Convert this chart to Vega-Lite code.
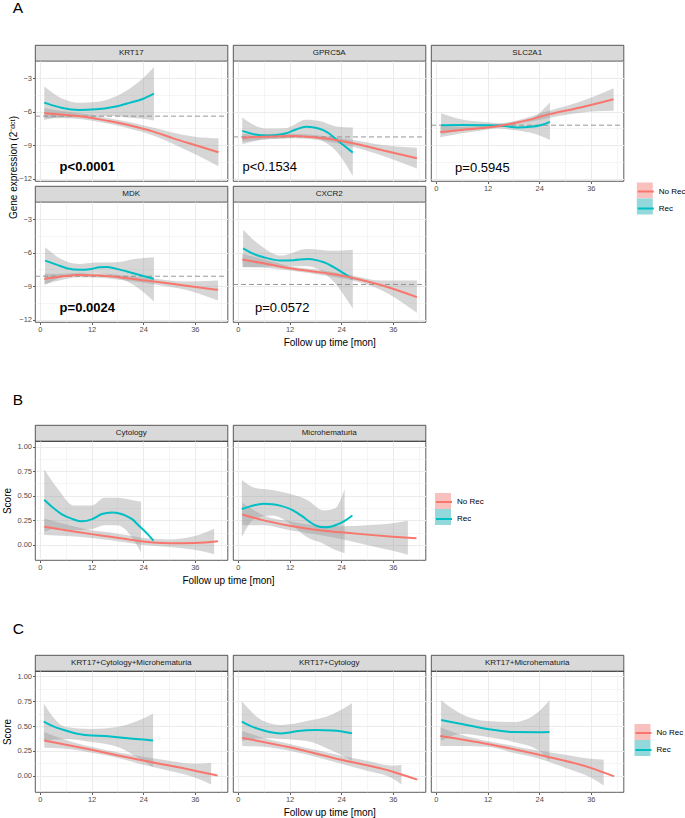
{
"$schema":"https://vega.github.io/schema/vega-lite/v6.json",
"padding":{"left":1,"top":0,"right":5,"bottom":5},
"autosize":{"type":"pad"},
"bounds":"flush",
"columns":3,
"spacing":{"row":0,"column":5},
"resolve":{"scale":{"stroke":"independent","fill":"independent"},"legend":{"stroke":"independent","fill":"independent"}},
"datasets":{
"L":[
{"p":"KRT17","g":"Rec","m":1,"v":-5.2},{"p":"KRT17","g":"Rec","m":5,"v":-5.65},{"p":"KRT17","g":"Rec","m":9,"v":-5.85},{"p":"KRT17","g":"Rec","m":13,"v":-5.8},{"p":"KRT17","g":"Rec","m":17,"v":-5.6},{"p":"KRT17","g":"Rec","m":21,"v":-5.2},{"p":"KRT17","g":"Rec","m":24,"v":-4.85},{"p":"KRT17","g":"Rec","m":26.5,"v":-4.4},
{"p":"KRT17","g":"No Rec","m":1,"v":-6.15},{"p":"KRT17","g":"No Rec","m":6,"v":-6.3},{"p":"KRT17","g":"No Rec","m":11,"v":-6.5},{"p":"KRT17","g":"No Rec","m":16,"v":-6.85},{"p":"KRT17","g":"No Rec","m":21,"v":-7.25},{"p":"KRT17","g":"No Rec","m":26,"v":-7.75},{"p":"KRT17","g":"No Rec","m":31,"v":-8.4},{"p":"KRT17","g":"No Rec","m":36,"v":-9.0},{"p":"KRT17","g":"No Rec","m":41.5,"v":-9.65},
{"p":"GPRC5A","g":"Rec","m":1,"v":-7.73},{"p":"GPRC5A","g":"Rec","m":4,"v":-8.05},{"p":"GPRC5A","g":"Rec","m":6.5,"v":-8.15},{"p":"GPRC5A","g":"Rec","m":9,"v":-8.1},{"p":"GPRC5A","g":"Rec","m":11,"v":-7.97},{"p":"GPRC5A","g":"Rec","m":13.5,"v":-7.6},{"p":"GPRC5A","g":"Rec","m":15.8,"v":-7.37},{"p":"GPRC5A","g":"Rec","m":18,"v":-7.45},{"p":"GPRC5A","g":"Rec","m":19.7,"v":-7.64},{"p":"GPRC5A","g":"Rec","m":21.5,"v":-8.05},{"p":"GPRC5A","g":"Rec","m":22.8,"v":-8.48},{"p":"GPRC5A","g":"Rec","m":24.5,"v":-9.0},{"p":"GPRC5A","g":"Rec","m":26.7,"v":-9.68},
{"p":"GPRC5A","g":"No Rec","m":1,"v":-8.36},{"p":"GPRC5A","g":"No Rec","m":6,"v":-8.25},{"p":"GPRC5A","g":"No Rec","m":12.7,"v":-8.18},{"p":"GPRC5A","g":"No Rec","m":20.4,"v":-8.42},{"p":"GPRC5A","g":"No Rec","m":26.7,"v":-8.84},{"p":"GPRC5A","g":"No Rec","m":33.6,"v":-9.47},{"p":"GPRC5A","g":"No Rec","m":41.6,"v":-10.19},
{"p":"SLC2A1","g":"Rec","m":1.2,"v":-7.22},{"p":"SLC2A1","g":"Rec","m":6,"v":-7.2},{"p":"SLC2A1","g":"Rec","m":12,"v":-7.22},{"p":"SLC2A1","g":"Rec","m":16,"v":-7.3},{"p":"SLC2A1","g":"Rec","m":18.9,"v":-7.43},{"p":"SLC2A1","g":"Rec","m":22,"v":-7.37},{"p":"SLC2A1","g":"Rec","m":24.5,"v":-7.2},{"p":"SLC2A1","g":"Rec","m":26.5,"v":-6.92},
{"p":"SLC2A1","g":"No Rec","m":1,"v":-7.82},{"p":"SLC2A1","g":"No Rec","m":6,"v":-7.65},{"p":"SLC2A1","g":"No Rec","m":12,"v":-7.43},{"p":"SLC2A1","g":"No Rec","m":19.7,"v":-6.92},{"p":"SLC2A1","g":"No Rec","m":26.5,"v":-6.23},{"p":"SLC2A1","g":"No Rec","m":33.6,"v":-5.63},{"p":"SLC2A1","g":"No Rec","m":41.3,"v":-4.89},
{"p":"MDK","g":"Rec","m":1.2,"v":-6.72},{"p":"MDK","g":"Rec","m":4,"v":-7.1},{"p":"MDK","g":"Rec","m":6.2,"v":-7.4},{"p":"MDK","g":"Rec","m":9.3,"v":-7.55},{"p":"MDK","g":"Rec","m":11.5,"v":-7.5},{"p":"MDK","g":"Rec","m":13.9,"v":-7.32},{"p":"MDK","g":"Rec","m":15.5,"v":-7.3},{"p":"MDK","g":"Rec","m":17.8,"v":-7.46},{"p":"MDK","g":"Rec","m":21.7,"v":-7.85},{"p":"MDK","g":"Rec","m":26.5,"v":-8.36},
{"p":"MDK","g":"No Rec","m":1,"v":-8.36},{"p":"MDK","g":"No Rec","m":5,"v":-8.15},{"p":"MDK","g":"No Rec","m":9,"v":-8.0},{"p":"MDK","g":"No Rec","m":14,"v":-8.06},{"p":"MDK","g":"No Rec","m":21.7,"v":-8.36},{"p":"MDK","g":"No Rec","m":26.5,"v":-8.6},{"p":"MDK","g":"No Rec","m":33.6,"v":-8.95},{"p":"MDK","g":"No Rec","m":41.4,"v":-9.34},
{"p":"CXCR2","g":"Rec","m":1.2,"v":-5.62},{"p":"CXCR2","g":"Rec","m":3.5,"v":-6.1},{"p":"CXCR2","g":"Rec","m":6,"v":-6.42},{"p":"CXCR2","g":"Rec","m":10,"v":-6.72},{"p":"CXCR2","g":"Rec","m":13,"v":-6.68},{"p":"CXCR2","g":"Rec","m":16.2,"v":-6.57},{"p":"CXCR2","g":"Rec","m":18.5,"v":-6.7},{"p":"CXCR2","g":"Rec","m":20,"v":-6.87},{"p":"CXCR2","g":"Rec","m":23.2,"v":-7.52},{"p":"CXCR2","g":"Rec","m":26.7,"v":-8.36},
{"p":"CXCR2","g":"No Rec","m":1,"v":-6.63},{"p":"CXCR2","g":"No Rec","m":6,"v":-6.96},{"p":"CXCR2","g":"No Rec","m":12,"v":-7.4},{"p":"CXCR2","g":"No Rec","m":20,"v":-7.82},{"p":"CXCR2","g":"No Rec","m":26.7,"v":-8.27},{"p":"CXCR2","g":"No Rec","m":33,"v":-8.89},{"p":"CXCR2","g":"No Rec","m":41.6,"v":-9.99},
{"p":"Cyt","g":"Rec","m":1,"v":0.46},{"p":"Cyt","g":"Rec","m":3,"v":0.38},{"p":"Cyt","g":"Rec","m":5,"v":0.314},{"p":"Cyt","g":"Rec","m":7.5,"v":0.265},{"p":"Cyt","g":"Rec","m":9.7,"v":0.24},{"p":"Cyt","g":"Rec","m":12,"v":0.26},{"p":"Cyt","g":"Rec","m":14.4,"v":0.314},{"p":"Cyt","g":"Rec","m":16.7,"v":0.33},{"p":"Cyt","g":"Rec","m":18.5,"v":0.32},{"p":"Cyt","g":"Rec","m":19.8,"v":0.3},{"p":"Cyt","g":"Rec","m":21.5,"v":0.26},{"p":"Cyt","g":"Rec","m":23,"v":0.196},{"p":"Cyt","g":"Rec","m":24.8,"v":0.12},{"p":"Cyt","g":"Rec","m":26.4,"v":0.044},
{"p":"Cyt","g":"No Rec","m":1,"v":0.186},{"p":"Cyt","g":"No Rec","m":6,"v":0.15},{"p":"Cyt","g":"No Rec","m":12,"v":0.11},{"p":"Cyt","g":"No Rec","m":16,"v":0.085},{"p":"Cyt","g":"No Rec","m":20,"v":0.06},{"p":"Cyt","g":"No Rec","m":24,"v":0.034},{"p":"Cyt","g":"No Rec","m":30,"v":0.017},{"p":"Cyt","g":"No Rec","m":36,"v":0.02},{"p":"Cyt","g":"No Rec","m":41.4,"v":0.037},
{"p":"Mic","g":"Rec","m":0.9,"v":0.365},{"p":"Mic","g":"Rec","m":3,"v":0.395},{"p":"Mic","g":"Rec","m":5.9,"v":0.42},{"p":"Mic","g":"Rec","m":8,"v":0.415},{"p":"Mic","g":"Rec","m":9.8,"v":0.4},{"p":"Mic","g":"Rec","m":12.9,"v":0.35},{"p":"Mic","g":"Rec","m":15,"v":0.29},{"p":"Mic","g":"Rec","m":16.8,"v":0.23},{"p":"Mic","g":"Rec","m":18.5,"v":0.19},{"p":"Mic","g":"Rec","m":20,"v":0.18},{"p":"Mic","g":"Rec","m":21.5,"v":0.185},{"p":"Mic","g":"Rec","m":23,"v":0.206},{"p":"Mic","g":"Rec","m":25,"v":0.25},{"p":"Mic","g":"Rec","m":26.6,"v":0.3},
{"p":"Mic","g":"No Rec","m":1,"v":0.31},{"p":"Mic","g":"No Rec","m":6,"v":0.25},{"p":"Mic","g":"No Rec","m":12,"v":0.196},{"p":"Mic","g":"No Rec","m":18,"v":0.155},{"p":"Mic","g":"No Rec","m":24,"v":0.128},{"p":"Mic","g":"No Rec","m":30,"v":0.105},{"p":"Mic","g":"No Rec","m":36,"v":0.084},{"p":"Mic","g":"No Rec","m":41.5,"v":0.068},
{"p":"KCM","g":"Rec","m":0.9,"v":0.545},{"p":"KCM","g":"Rec","m":3,"v":0.5},{"p":"KCM","g":"Rec","m":6,"v":0.455},{"p":"KCM","g":"Rec","m":9,"v":0.42},{"p":"KCM","g":"Rec","m":12,"v":0.404},{"p":"KCM","g":"Rec","m":15,"v":0.4},{"p":"KCM","g":"Rec","m":18,"v":0.387},{"p":"KCM","g":"Rec","m":21,"v":0.375},{"p":"KCM","g":"Rec","m":24,"v":0.364},{"p":"KCM","g":"Rec","m":26.3,"v":0.354},
{"p":"KCM","g":"No Rec","m":1,"v":0.354},{"p":"KCM","g":"No Rec","m":12,"v":0.26},{"p":"KCM","g":"No Rec","m":24,"v":0.152},{"p":"KCM","g":"No Rec","m":36,"v":0.05},{"p":"KCM","g":"No Rec","m":41.3,"v":0.0},
{"p":"KC","g":"Rec","m":0.9,"v":0.545},{"p":"KC","g":"Rec","m":3,"v":0.5},{"p":"KC","g":"Rec","m":6,"v":0.455},{"p":"KC","g":"Rec","m":8,"v":0.435},{"p":"KC","g":"Rec","m":10,"v":0.425},{"p":"KC","g":"Rec","m":12,"v":0.435},{"p":"KC","g":"Rec","m":14,"v":0.45},{"p":"KC","g":"Rec","m":18,"v":0.46},{"p":"KC","g":"Rec","m":22,"v":0.455},{"p":"KC","g":"Rec","m":26.5,"v":0.428},
{"p":"KC","g":"No Rec","m":1,"v":0.38},{"p":"KC","g":"No Rec","m":12,"v":0.286},{"p":"KC","g":"No Rec","m":24,"v":0.16},{"p":"KC","g":"No Rec","m":36,"v":0.04},{"p":"KC","g":"No Rec","m":41.7,"v":-0.04},
{"p":"KM","g":"Rec","m":1.2,"v":0.56},{"p":"KM","g":"Rec","m":6,"v":0.52},{"p":"KM","g":"Rec","m":12,"v":0.47},{"p":"KM","g":"Rec","m":18,"v":0.44},{"p":"KM","g":"Rec","m":24,"v":0.438},{"p":"KM","g":"Rec","m":26.4,"v":0.44},
{"p":"KM","g":"No Rec","m":1,"v":0.4},{"p":"KM","g":"No Rec","m":12,"v":0.32},{"p":"KM","g":"No Rec","m":24,"v":0.21},{"p":"KM","g":"No Rec","m":36,"v":0.078},{"p":"KM","g":"No Rec","m":41.4,"v":-0.007}
],
"B":[
{"p":"KRT17","g":"Rec","m":1,"v":-6.75,"v2":-3.75},{"p":"KRT17","g":"Rec","m":5,"v":-6.5,"v2":-4.8},{"p":"KRT17","g":"Rec","m":9,"v":-6.5,"v2":-5.2},{"p":"KRT17","g":"Rec","m":13,"v":-6.45,"v2":-5.15},{"p":"KRT17","g":"Rec","m":17,"v":-6.4,"v2":-4.75},{"p":"KRT17","g":"Rec","m":21,"v":-6.55,"v2":-3.9},{"p":"KRT17","g":"Rec","m":24,"v":-6.65,"v2":-3.0},{"p":"KRT17","g":"Rec","m":26.5,"v":-6.8,"v2":-2.0},
{"p":"KRT17","g":"No Rec","m":1,"v":-6.6,"v2":-5.7},{"p":"KRT17","g":"No Rec","m":6,"v":-6.6,"v2":-6.0},{"p":"KRT17","g":"No Rec","m":11,"v":-6.75,"v2":-6.25},{"p":"KRT17","g":"No Rec","m":16,"v":-7.1,"v2":-6.6},{"p":"KRT17","g":"No Rec","m":21,"v":-7.55,"v2":-6.95},{"p":"KRT17","g":"No Rec","m":26,"v":-8.1,"v2":-7.4},{"p":"KRT17","g":"No Rec","m":31,"v":-8.9,"v2":-7.9},{"p":"KRT17","g":"No Rec","m":36,"v":-9.8,"v2":-8.25},{"p":"KRT17","g":"No Rec","m":41.5,"v":-10.9,"v2":-8.4},
{"p":"GPRC5A","g":"Rec","m":1,"v":-8.93,"v2":-6.53},{"p":"GPRC5A","g":"Rec","m":6.5,"v":-8.48,"v2":-7.52},{"p":"GPRC5A","g":"Rec","m":11,"v":-8.4,"v2":-7.5},{"p":"GPRC5A","g":"Rec","m":15.8,"v":-8.18,"v2":-6.74},{"p":"GPRC5A","g":"Rec","m":19.5,"v":-8.6,"v2":-6.9},{"p":"GPRC5A","g":"Rec","m":22.8,"v":-9.53,"v2":-7.34},{"p":"GPRC5A","g":"Rec","m":26.7,"v":-11.77,"v2":-7.43},
{"p":"GPRC5A","g":"No Rec","m":1,"v":-8.7,"v2":-8.0},{"p":"GPRC5A","g":"No Rec","m":6,"v":-8.5,"v2":-8.0},{"p":"GPRC5A","g":"No Rec","m":12.7,"v":-8.38,"v2":-7.98},{"p":"GPRC5A","g":"No Rec","m":20.4,"v":-8.65,"v2":-8.2},{"p":"GPRC5A","g":"No Rec","m":26.7,"v":-9.15,"v2":-8.55},{"p":"GPRC5A","g":"No Rec","m":33.6,"v":-9.95,"v2":-9.0},{"p":"GPRC5A","g":"No Rec","m":41.6,"v":-11.1,"v2":-9.25},
{"p":"SLC2A1","g":"Rec","m":1.2,"v":-8.03,"v2":-6.14},{"p":"SLC2A1","g":"Rec","m":6,"v":-7.7,"v2":-6.7},{"p":"SLC2A1","g":"Rec","m":12,"v":-7.5,"v2":-6.95},{"p":"SLC2A1","g":"Rec","m":18.9,"v":-7.7,"v2":-7.1},{"p":"SLC2A1","g":"Rec","m":22.5,"v":-7.95,"v2":-6.6},{"p":"SLC2A1","g":"Rec","m":26.5,"v":-8.54,"v2":-5.19},
{"p":"SLC2A1","g":"No Rec","m":1,"v":-8.3,"v2":-7.3},{"p":"SLC2A1","g":"No Rec","m":6,"v":-7.95,"v2":-7.35},{"p":"SLC2A1","g":"No Rec","m":12,"v":-7.6,"v2":-7.25},{"p":"SLC2A1","g":"No Rec","m":19.7,"v":-7.1,"v2":-6.72},{"p":"SLC2A1","g":"No Rec","m":26.5,"v":-6.55,"v2":-5.9},{"p":"SLC2A1","g":"No Rec","m":33.6,"v":-6.1,"v2":-5.1},{"p":"SLC2A1","g":"No Rec","m":41.3,"v":-5.93,"v2":-3.9},
{"p":"MDK","g":"Rec","m":1.2,"v":-8.89,"v2":-5.53},{"p":"MDK","g":"Rec","m":5,"v":-8.2,"v2":-6.6},{"p":"MDK","g":"Rec","m":9,"v":-7.97,"v2":-7.02},{"p":"MDK","g":"Rec","m":13,"v":-7.8,"v2":-6.9},{"p":"MDK","g":"Rec","m":17.8,"v":-8.21,"v2":-6.87},{"p":"MDK","g":"Rec","m":22,"v":-8.95,"v2":-6.57},{"p":"MDK","g":"Rec","m":26.5,"v":-10.38,"v2":-6.42},
{"p":"MDK","g":"No Rec","m":1,"v":-8.85,"v2":-7.9},{"p":"MDK","g":"No Rec","m":5,"v":-8.45,"v2":-7.9},{"p":"MDK","g":"No Rec","m":9,"v":-8.2,"v2":-7.8},{"p":"MDK","g":"No Rec","m":14,"v":-8.25,"v2":-7.85},{"p":"MDK","g":"No Rec","m":21.7,"v":-8.6,"v2":-8.15},{"p":"MDK","g":"No Rec","m":26.5,"v":-8.85,"v2":-8.35},{"p":"MDK","g":"No Rec","m":33.6,"v":-9.3,"v2":-8.6},{"p":"MDK","g":"No Rec","m":41.4,"v":-10.29,"v2":-8.51},
{"p":"CXCR2","g":"Rec","m":1.2,"v":-7.32,"v2":-3.95},{"p":"CXCR2","g":"Rec","m":5,"v":-7.3,"v2":-5.3},{"p":"CXCR2","g":"Rec","m":10,"v":-7.23,"v2":-6.27},{"p":"CXCR2","g":"Rec","m":16,"v":-7.23,"v2":-5.68},{"p":"CXCR2","g":"Rec","m":22,"v":-8.51,"v2":-5.83},{"p":"CXCR2","g":"Rec","m":26.7,"v":-11.04,"v2":-5.74},
{"p":"CXCR2","g":"No Rec","m":1,"v":-7.3,"v2":-6.1},{"p":"CXCR2","g":"No Rec","m":6,"v":-7.35,"v2":-6.6},{"p":"CXCR2","g":"No Rec","m":12,"v":-7.6,"v2":-7.2},{"p":"CXCR2","g":"No Rec","m":20,"v":-8.05,"v2":-7.6},{"p":"CXCR2","g":"No Rec","m":26.7,"v":-8.5,"v2":-8.05},{"p":"CXCR2","g":"No Rec","m":33,"v":-9.3,"v2":-8.5},{"p":"CXCR2","g":"No Rec","m":41.6,"v":-11.39,"v2":-8.51},
{"p":"Cyt","g":"Rec","m":1,"v":0.13,"v2":0.77},{"p":"Cyt","g":"Rec","m":4,"v":0.17,"v2":0.58},{"p":"Cyt","g":"Rec","m":8,"v":0.15,"v2":0.4},{"p":"Cyt","g":"Rec","m":12,"v":0.16,"v2":0.4},{"p":"Cyt","g":"Rec","m":15,"v":0.2,"v2":0.48},{"p":"Cyt","g":"Rec","m":18,"v":0.2,"v2":0.48},{"p":"Cyt","g":"Rec","m":21,"v":0.1,"v2":0.46},{"p":"Cyt","g":"Rec","m":23.5,"v":-0.08,"v2":0.44},
{"p":"Cyt","g":"No Rec","m":1,"v":0.1,"v2":0.27},{"p":"Cyt","g":"No Rec","m":6,"v":0.09,"v2":0.21},{"p":"Cyt","g":"No Rec","m":12,"v":0.07,"v2":0.15},{"p":"Cyt","g":"No Rec","m":16,"v":0.05,"v2":0.13},{"p":"Cyt","g":"No Rec","m":20,"v":0.025,"v2":0.1},{"p":"Cyt","g":"No Rec","m":24,"v":0.0,"v2":0.07},{"p":"Cyt","g":"No Rec","m":30,"v":-0.02,"v2":0.055},{"p":"Cyt","g":"No Rec","m":36,"v":-0.05,"v2":0.09},{"p":"Cyt","g":"No Rec","m":40.5,"v":-0.095,"v2":0.165},
{"p":"Mic","g":"Rec","m":0.9,"v":0.08,"v2":0.66},{"p":"Mic","g":"Rec","m":4,"v":0.27,"v2":0.58},{"p":"Mic","g":"Rec","m":8,"v":0.3,"v2":0.56},{"p":"Mic","g":"Rec","m":12,"v":0.22,"v2":0.52},{"p":"Mic","g":"Rec","m":16,"v":0.08,"v2":0.46},{"p":"Mic","g":"Rec","m":20,"v":0.01,"v2":0.35},{"p":"Mic","g":"Rec","m":22.5,"v":-0.05,"v2":0.37},{"p":"Mic","g":"Rec","m":24.8,"v":-0.084,"v2":0.57},
{"p":"Mic","g":"No Rec","m":1,"v":0.2,"v2":0.43},{"p":"Mic","g":"No Rec","m":6,"v":0.2,"v2":0.3},{"p":"Mic","g":"No Rec","m":12,"v":0.15,"v2":0.24},{"p":"Mic","g":"No Rec","m":18,"v":0.11,"v2":0.2},{"p":"Mic","g":"No Rec","m":24,"v":0.06,"v2":0.19},{"p":"Mic","g":"No Rec","m":30,"v":0.0,"v2":0.2},{"p":"Mic","g":"No Rec","m":36,"v":-0.06,"v2":0.22},{"p":"Mic","g":"No Rec","m":39.5,"v":-0.1,"v2":0.245},
{"p":"KCM","g":"Rec","m":0.9,"v":0.35,"v2":0.724},{"p":"KCM","g":"Rec","m":6,"v":0.37,"v2":0.49},{"p":"KCM","g":"Rec","m":12,"v":0.34,"v2":0.47},{"p":"KCM","g":"Rec","m":18,"v":0.29,"v2":0.49},{"p":"KCM","g":"Rec","m":22,"v":0.2,"v2":0.54},{"p":"KCM","g":"Rec","m":26.3,"v":0.084,"v2":0.623},
{"p":"KCM","g":"No Rec","m":1,"v":0.28,"v2":0.44},{"p":"KCM","g":"No Rec","m":6,"v":0.27,"v2":0.36},{"p":"KCM","g":"No Rec","m":12,"v":0.23,"v2":0.29},{"p":"KCM","g":"No Rec","m":18,"v":0.18,"v2":0.235},{"p":"KCM","g":"No Rec","m":24,"v":0.11,"v2":0.19},{"p":"KCM","g":"No Rec","m":30,"v":0.05,"v2":0.15},{"p":"KCM","g":"No Rec","m":36,"v":-0.02,"v2":0.12},{"p":"KCM","g":"No Rec","m":39.8,"v":-0.09,"v2":0.13},
{"p":"KC","g":"Rec","m":0.9,"v":0.35,"v2":0.75},{"p":"KC","g":"Rec","m":6,"v":0.38,"v2":0.55},{"p":"KC","g":"Rec","m":10,"v":0.37,"v2":0.51},{"p":"KC","g":"Rec","m":16,"v":0.35,"v2":0.55},{"p":"KC","g":"Rec","m":22,"v":0.25,"v2":0.62},{"p":"KC","g":"Rec","m":26.5,"v":0.15,"v2":0.73},
{"p":"KC","g":"No Rec","m":1,"v":0.3,"v2":0.45},{"p":"KC","g":"No Rec","m":6,"v":0.29,"v2":0.38},{"p":"KC","g":"No Rec","m":12,"v":0.25,"v2":0.32},{"p":"KC","g":"No Rec","m":18,"v":0.19,"v2":0.26},{"p":"KC","g":"No Rec","m":24,"v":0.12,"v2":0.2},{"p":"KC","g":"No Rec","m":30,"v":0.05,"v2":0.15},{"p":"KC","g":"No Rec","m":36,"v":-0.03,"v2":0.1},{"p":"KC","g":"No Rec","m":38,"v":-0.09,"v2":0.11},
{"p":"KM","g":"Rec","m":1.2,"v":0.35,"v2":0.76},{"p":"KM","g":"Rec","m":6,"v":0.42,"v2":0.62},{"p":"KM","g":"Rec","m":12,"v":0.39,"v2":0.55},{"p":"KM","g":"Rec","m":18,"v":0.34,"v2":0.54},{"p":"KM","g":"Rec","m":24,"v":0.25,"v2":0.65},{"p":"KM","g":"Rec","m":26.4,"v":0.14,"v2":0.76},
{"p":"KM","g":"No Rec","m":1,"v":0.3,"v2":0.49},{"p":"KM","g":"No Rec","m":6,"v":0.3,"v2":0.41},{"p":"KM","g":"No Rec","m":12,"v":0.29,"v2":0.35},{"p":"KM","g":"No Rec","m":18,"v":0.23,"v2":0.3},{"p":"KM","g":"No Rec","m":24,"v":0.17,"v2":0.25},{"p":"KM","g":"No Rec","m":30,"v":0.08,"v2":0.21},{"p":"KM","g":"No Rec","m":36,"v":-0.02,"v2":0.17},{"p":"KM","g":"No Rec","m":39,"v":-0.1,"v2":0.16}
],
"H":[
{"p":"KRT17","m":-1.15,"m2":43.6,"v":-6.41},{"p":"GPRC5A","m":-1.15,"m2":43.6,"v":-8.27},{"p":"SLC2A1","m":-1.15,"m2":43.6,"v":-7.22},{"p":"MDK","m":-1.15,"m2":43.6,"v":-8.12},{"p":"CXCR2","m":-1.15,"m2":43.6,"v":-8.86}
],
"P":[
{"p":"KRT17","m":11,"v":-11,"t":"p<0.0001"},{"p":"GPRC5A","m":7.4,"v":-11,"t":"p<0.1534"},{"p":"SLC2A1","m":10.8,"v":-11.1,"t":"p=0.5945"},{"p":"MDK","m":11,"v":-10.93,"t":"p=0.0024"},{"p":"CXCR2","m":10.3,"v":-10.93,"t":"p=0.0572"}
]
},
"concat":[
{"width":192.5,"height":16,"view":{"fill":"#d9d9d9","stroke":"#333333","strokeWidth":0.8},"title":{"text":"A","anchor":"start","dx":-22.3,"offset":17,"fontSize":15.5,"fontWeight":"normal","baseline":"alphabetic","color":"#000000","frame":"group"},"data":{"values":[{"s":"KRT17"}]},"mark":{"type":"text","fontSize":8,"color":"#1a1a1a"},"encoding":{"text":{"field":"s"}}},
{"width":192.5,"height":16,"view":{"fill":"#d9d9d9","stroke":"#333333","strokeWidth":0.8},"data":{"values":[{"s":"GPRC5A"}]},"mark":{"type":"text","fontSize":8,"color":"#1a1a1a"},"encoding":{"text":{"field":"s"}}},
{"width":192.5,"height":16,"view":{"fill":"#d9d9d9","stroke":"#333333","strokeWidth":0.8},"data":{"values":[{"s":"SLC2A1"}]},"mark":{"type":"text","fontSize":8,"color":"#1a1a1a"},"encoding":{"text":{"field":"s"}}},

{"width":192.5,"height":120,"view":{"stroke":"#333333","strokeWidth":0.8},
 "encoding":{"x":{"field":"m","type":"quantitative","scale":{"domain":[-1.15,43.6],"nice":false,"zero":false},"axis":{"values":[0,6,12,18,24,30,36,42],"labels":false,"ticks":false,"title":null,"gridWidth":{"condition":{"test":"datum.value % 12 !== 0","value":0.5},"value":1}}},
  "y":{"field":"v","type":"quantitative","scale":{"domain":[-12.22,-1.47],"nice":false,"zero":false},"axis":{"values":[-1.5,-3,-4.5,-6,-7.5,-9,-10.5,-12],"labelExpr":"datum.value % 3 === 0 ? datum.label : ''","tickOpacity":{"condition":{"test":"datum.value % 3 !== 0","value":0},"value":1},"gridWidth":{"condition":{"test":"datum.value % 3 !== 0","value":0.5},"value":1},"title":"Gene expression (2⁻ᵈᶜᵗ)","titleX":-18.7,"titleY":106,"titleBaseline":"alphabetic"}}},
 "layer":[
  {"data":{"name":"B"},"transform":[{"filter":"datum.p==='KRT17'"}],"mark":{"type":"area","fill":"#999999","fillOpacity":0.4,"interpolate":"monotone"},"encoding":{"y2":{"field":"v2"},"detail":{"field":"g"}}},
  {"data":{"name":"H"},"transform":[{"filter":"datum.p==='KRT17'"}],"mark":{"type":"rule","color":"#8c8c8c","strokeDash":[5,3],"strokeWidth":0.9},"encoding":{"x2":{"field":"m2"}}},
  {"data":{"name":"L"},"transform":[{"filter":"datum.p==='KRT17'"}],"mark":{"type":"line","strokeWidth":2,"interpolate":"monotone"},"encoding":{"stroke":{"field":"g","type":"nominal","scale":{"domain":["No Rec","Rec"],"range":["#F8766D","#00BFC4"]},"legend":null}}},
  {"data":{"name":"P"},"transform":[{"filter":"datum.p==='KRT17'"}],"mark":{"type":"text","fontSize":13,"fontWeight":"bold","color":"#000000"},"encoding":{"text":{"field":"t"}}}
 ]},
{"width":192.5,"height":120,"view":{"stroke":"#333333","strokeWidth":0.8},
 "encoding":{"x":{"field":"m","type":"quantitative","scale":{"domain":[-1.15,43.6],"nice":false,"zero":false},"axis":{"values":[0,6,12,18,24,30,36,42],"labels":false,"ticks":false,"title":null,"gridWidth":{"condition":{"test":"datum.value % 12 !== 0","value":0.5},"value":1}}},
  "y":{"field":"v","type":"quantitative","scale":{"domain":[-12.22,-1.47],"nice":false,"zero":false},"axis":{"values":[-1.5,-3,-4.5,-6,-7.5,-9,-10.5,-12],"labels":false,"ticks":false,"title":null,"gridWidth":{"condition":{"test":"datum.value % 3 !== 0","value":0.5},"value":1}}}},
 "layer":[
  {"data":{"name":"B"},"transform":[{"filter":"datum.p==='GPRC5A'"}],"mark":{"type":"area","fill":"#999999","fillOpacity":0.4,"interpolate":"monotone"},"encoding":{"y2":{"field":"v2"},"detail":{"field":"g"}}},
  {"data":{"name":"H"},"transform":[{"filter":"datum.p==='GPRC5A'"}],"mark":{"type":"rule","color":"#8c8c8c","strokeDash":[5,3],"strokeWidth":0.9},"encoding":{"x2":{"field":"m2"}}},
  {"data":{"name":"L"},"transform":[{"filter":"datum.p==='GPRC5A'"}],"mark":{"type":"line","strokeWidth":2,"interpolate":"monotone"},"encoding":{"stroke":{"field":"g","type":"nominal","scale":{"domain":["No Rec","Rec"],"range":["#F8766D","#00BFC4"]},"legend":null}}},
  {"data":{"name":"P"},"transform":[{"filter":"datum.p==='GPRC5A'"}],"mark":{"type":"text","fontSize":13,"color":"#000000"},"encoding":{"text":{"field":"t"}}}
 ]},
{"width":192.5,"height":120,"view":{"stroke":"#333333","strokeWidth":0.8},
 "encoding":{"x":{"field":"m","type":"quantitative","scale":{"domain":[-1.15,43.6],"nice":false,"zero":false},"axis":{"values":[0,6,12,18,24,30,36,42],"labelExpr":"datum.value % 12 === 0 ? datum.label : ''","tickOpacity":{"condition":{"test":"datum.value % 12 !== 0","value":0},"value":1},"gridWidth":{"condition":{"test":"datum.value % 12 !== 0","value":0.5},"value":1},"title":null}},
  "y":{"field":"v","type":"quantitative","scale":{"domain":[-12.22,-1.47],"nice":false,"zero":false},"axis":{"values":[-1.5,-3,-4.5,-6,-7.5,-9,-10.5,-12],"labels":false,"ticks":false,"title":null,"gridWidth":{"condition":{"test":"datum.value % 3 !== 0","value":0.5},"value":1}}}},
 "layer":[
  {"data":{"name":"B"},"transform":[{"filter":"datum.p==='SLC2A1'"}],"mark":{"type":"area","fill":"#999999","fillOpacity":0.4,"interpolate":"monotone"},"encoding":{"y2":{"field":"v2"},"detail":{"field":"g"}}},
  {"data":{"name":"H"},"transform":[{"filter":"datum.p==='SLC2A1'"}],"mark":{"type":"rule","color":"#8c8c8c","strokeDash":[5,3],"strokeWidth":0.9},"encoding":{"x2":{"field":"m2"}}},
  {"data":{"name":"L"},"transform":[{"filter":"false"}],"mark":{"type":"point","filled":true},"encoding":{"fill":{"field":"g","type":"nominal","scale":{"domain":["No Rec ","Rec "],"range":["#f9c1bd","#93d9db"]},"legend":{"orient":"none","legendX":205.8,"legendY":121.5,"title":null,"symbolType":"square","symbolSize":256,"symbolStrokeWidth":0,"symbolOpacity":1,"labelExpr":"''","labelFontSize":8,"labelOffset":4,"rowPadding":0,"padding":0}}}},
  {"data":{"name":"L"},"transform":[{"filter":"datum.p==='SLC2A1'"}],"mark":{"type":"line","strokeWidth":2,"interpolate":"monotone"},"encoding":{"stroke":{"field":"g","type":"nominal","scale":{"domain":["No Rec","Rec"],"range":["#F8766D","#00BFC4"]},"legend":{"orient":"none","legendX":205.8,"legendY":121.5,"title":null,"symbolType":"M-1,-0.5M1,0.5M-1,0L1,0","symbolSize":256,"symbolStrokeWidth":2,"labelFontSize":8,"labelColor":"#000000","labelOffset":4,"rowPadding":0,"padding":0}}}},
  {"data":{"name":"P"},"transform":[{"filter":"datum.p==='SLC2A1'"}],"mark":{"type":"text","fontSize":13,"color":"#000000"},"encoding":{"text":{"field":"t"}}}
 ]},

{"width":192.5,"height":5,"data":{"values":[{"s":""}]},"mark":{"type":"text"},"encoding":{"text":{"field":"s"}}},
{"width":192.5,"height":5,"data":{"values":[{"s":""}]},"mark":{"type":"text"},"encoding":{"text":{"field":"s"}}},
{"width":192.5,"height":5,"data":{"values":[{"s":""}]},"mark":{"type":"text"},"encoding":{"text":{"field":"s"}}},

{"width":192.5,"height":16,"view":{"fill":"#d9d9d9","stroke":"#333333","strokeWidth":0.8},"data":{"values":[{"s":"MDK"}]},"mark":{"type":"text","fontSize":8,"color":"#1a1a1a"},"encoding":{"text":{"field":"s"}}},
{"width":192.5,"height":16,"view":{"fill":"#d9d9d9","stroke":"#333333","strokeWidth":0.8},"data":{"values":[{"s":"CXCR2"}]},"mark":{"type":"text","fontSize":8,"color":"#1a1a1a"},"encoding":{"text":{"field":"s"}}},
{"width":192.5,"height":1,"data":{"values":[{"s":""}]},"mark":{"type":"text"},"encoding":{"text":{"field":"s"}}},

{"width":192.5,"height":120,"view":{"stroke":"#333333","strokeWidth":0.8},
 "encoding":{"x":{"field":"m","type":"quantitative","scale":{"domain":[-1.15,43.6],"nice":false,"zero":false},"axis":{"values":[0,6,12,18,24,30,36,42],"labelExpr":"datum.value % 12 === 0 ? datum.label : ''","tickOpacity":{"condition":{"test":"datum.value % 12 !== 0","value":0},"value":1},"gridWidth":{"condition":{"test":"datum.value % 12 !== 0","value":0.5},"value":1},"title":null}},
  "y":{"field":"v","type":"quantitative","scale":{"domain":[-12.22,-1.47],"nice":false,"zero":false},"axis":{"values":[-1.5,-3,-4.5,-6,-7.5,-9,-10.5,-12],"labelExpr":"datum.value % 3 === 0 ? datum.label : ''","tickOpacity":{"condition":{"test":"datum.value % 3 !== 0","value":0},"value":1},"gridWidth":{"condition":{"test":"datum.value % 3 !== 0","value":0.5},"value":1},"title":null}}},
 "layer":[
  {"data":{"name":"B"},"transform":[{"filter":"datum.p==='MDK'"}],"mark":{"type":"area","fill":"#999999","fillOpacity":0.4,"interpolate":"monotone"},"encoding":{"y2":{"field":"v2"},"detail":{"field":"g"}}},
  {"data":{"name":"H"},"transform":[{"filter":"datum.p==='MDK'"}],"mark":{"type":"rule","color":"#8c8c8c","strokeDash":[5,3],"strokeWidth":0.9},"encoding":{"x2":{"field":"m2"}}},
  {"data":{"name":"L"},"transform":[{"filter":"datum.p==='MDK'"}],"mark":{"type":"line","strokeWidth":2,"interpolate":"monotone"},"encoding":{"stroke":{"field":"g","type":"nominal","scale":{"domain":["No Rec","Rec"],"range":["#F8766D","#00BFC4"]},"legend":null}}},
  {"data":{"name":"P"},"transform":[{"filter":"datum.p==='MDK'"}],"mark":{"type":"text","fontSize":13,"fontWeight":"bold","color":"#000000"},"encoding":{"text":{"field":"t"}}}
 ]},
{"width":192.5,"height":120,"view":{"stroke":"#333333","strokeWidth":0.8},
 "encoding":{"x":{"field":"m","type":"quantitative","scale":{"domain":[-1.15,43.6],"nice":false,"zero":false},"axis":{"values":[0,6,12,18,24,30,36,42],"labelExpr":"datum.value % 12 === 0 ? datum.label : ''","tickOpacity":{"condition":{"test":"datum.value % 12 !== 0","value":0},"value":1},"gridWidth":{"condition":{"test":"datum.value % 12 !== 0","value":0.5},"value":1},"title":"Follow up time [mon]","titleY":23,"titleBaseline":"alphabetic"}},
  "y":{"field":"v","type":"quantitative","scale":{"domain":[-12.22,-1.47],"nice":false,"zero":false},"axis":{"values":[-1.5,-3,-4.5,-6,-7.5,-9,-10.5,-12],"labels":false,"ticks":false,"title":null,"gridWidth":{"condition":{"test":"datum.value % 3 !== 0","value":0.5},"value":1}}}},
 "layer":[
  {"data":{"name":"B"},"transform":[{"filter":"datum.p==='CXCR2'"}],"mark":{"type":"area","fill":"#999999","fillOpacity":0.4,"interpolate":"monotone"},"encoding":{"y2":{"field":"v2"},"detail":{"field":"g"}}},
  {"data":{"name":"H"},"transform":[{"filter":"datum.p==='CXCR2'"}],"mark":{"type":"rule","color":"#8c8c8c","strokeDash":[5,3],"strokeWidth":0.9},"encoding":{"x2":{"field":"m2"}}},
  {"data":{"name":"L"},"transform":[{"filter":"datum.p==='CXCR2'"}],"mark":{"type":"line","strokeWidth":2,"interpolate":"monotone"},"encoding":{"stroke":{"field":"g","type":"nominal","scale":{"domain":["No Rec","Rec"],"range":["#F8766D","#00BFC4"]},"legend":null}}},
  {"data":{"name":"P"},"transform":[{"filter":"datum.p==='CXCR2'"}],"mark":{"type":"text","fontSize":13,"color":"#000000"},"encoding":{"text":{"field":"t"}}}
 ]},
{"width":192.5,"height":1,"data":{"values":[{"s":""}]},"mark":{"type":"text"},"encoding":{"text":{"field":"s"}}},

{"width":192.5,"height":103,"data":{"values":[{"s":""}]},"mark":{"type":"text"},"encoding":{"text":{"field":"s"}}},
{"width":192.5,"height":103,"data":{"values":[{"s":""}]},"mark":{"type":"text"},"encoding":{"text":{"field":"s"}}},
{"width":192.5,"height":103,"data":{"values":[{"s":""}]},"mark":{"type":"text"},"encoding":{"text":{"field":"s"}}},

{"width":192.5,"height":16,"view":{"fill":"#d9d9d9","stroke":"#333333","strokeWidth":0.8},"title":{"text":"B","anchor":"start","dx":-22.3,"offset":5,"fontSize":15.5,"fontWeight":"normal","baseline":"alphabetic","color":"#000000","frame":"group"},"data":{"values":[{"s":"Cytology"}]},"mark":{"type":"text","fontSize":8,"color":"#1a1a1a"},"encoding":{"text":{"field":"s"}}},
{"width":192.5,"height":16,"view":{"fill":"#d9d9d9","stroke":"#333333","strokeWidth":0.8},"data":{"values":[{"s":"Microhematuria"}]},"mark":{"type":"text","fontSize":8,"color":"#1a1a1a"},"encoding":{"text":{"field":"s"}}},
{"width":192.5,"height":1,"data":{"values":[{"s":""}]},"mark":{"type":"text"},"encoding":{"text":{"field":"s"}}},

{"width":192.5,"height":119,"view":{"stroke":"#333333","strokeWidth":0.8},
 "encoding":{"x":{"field":"m","type":"quantitative","scale":{"domain":[-1.15,43.6],"nice":false,"zero":false},"axis":{"values":[0,6,12,18,24,30,36,42],"labelExpr":"datum.value % 12 === 0 ? datum.label : ''","tickOpacity":{"condition":{"test":"datum.value % 12 !== 0","value":0},"value":1},"gridWidth":{"condition":{"test":"datum.value % 12 !== 0","value":0.5},"value":1},"title":"Follow up time [mon]","titleX":193,"titleY":23,"titleBaseline":"alphabetic"}},
  "y":{"field":"v","type":"quantitative","scale":{"domain":[-0.153,1.057],"nice":false,"zero":false},"axis":{"values":[0,0.125,0.25,0.375,0.5,0.625,0.75,0.875,1],"format":".2f","labelExpr":"(datum.value*8) % 2 === 0 ? datum.label : ''","tickOpacity":{"condition":{"test":"(datum.value*8) % 2 !== 0","value":0},"value":1},"gridWidth":{"condition":{"test":"(datum.value*8) % 2 !== 0","value":0.5},"value":1},"title":"Score","titleX":-25,"titleBaseline":"alphabetic"}}},
 "layer":[
  {"data":{"name":"B"},"transform":[{"filter":"datum.p==='Cyt'"}],"mark":{"type":"area","fill":"#999999","fillOpacity":0.4,"interpolate":"monotone"},"encoding":{"y2":{"field":"v2"},"detail":{"field":"g"}}},
  {"data":{"name":"L"},"transform":[{"filter":"datum.p==='Cyt'"}],"mark":{"type":"line","strokeWidth":2,"interpolate":"monotone"},"encoding":{"stroke":{"field":"g","type":"nominal","scale":{"domain":["No Rec","Rec"],"range":["#F8766D","#00BFC4"]},"legend":null}}}
 ]},
{"width":192.5,"height":119,"view":{"stroke":"#333333","strokeWidth":0.8},
 "encoding":{"x":{"field":"m","type":"quantitative","scale":{"domain":[-1.15,43.6],"nice":false,"zero":false},"axis":{"values":[0,6,12,18,24,30,36,42],"labelExpr":"datum.value % 12 === 0 ? datum.label : ''","tickOpacity":{"condition":{"test":"datum.value % 12 !== 0","value":0},"value":1},"gridWidth":{"condition":{"test":"datum.value % 12 !== 0","value":0.5},"value":1},"title":null}},
  "y":{"field":"v","type":"quantitative","scale":{"domain":[-0.153,1.057],"nice":false,"zero":false},"axis":{"values":[0,0.125,0.25,0.375,0.5,0.625,0.75,0.875,1],"labels":false,"ticks":false,"title":null,"gridWidth":{"condition":{"test":"(datum.value*8) % 2 !== 0","value":0.5},"value":1}}}},
 "layer":[
  {"data":{"name":"B"},"transform":[{"filter":"datum.p==='Mic'"}],"mark":{"type":"area","fill":"#999999","fillOpacity":0.4,"interpolate":"monotone"},"encoding":{"y2":{"field":"v2"},"detail":{"field":"g"}}},
  {"data":{"name":"L"},"transform":[{"filter":"false"}],"mark":{"type":"point","filled":true},"encoding":{"fill":{"field":"g","type":"nominal","scale":{"domain":["No Rec ","Rec "],"range":["#f9c1bd","#93d9db"]},"legend":{"orient":"none","legendX":202,"legendY":52,"title":null,"symbolType":"square","symbolSize":256,"symbolStrokeWidth":0,"symbolOpacity":1,"labelExpr":"''","labelFontSize":8,"labelOffset":4,"rowPadding":0,"padding":0}}}},
  {"data":{"name":"L"},"transform":[{"filter":"datum.p==='Mic'"}],"mark":{"type":"line","strokeWidth":2,"interpolate":"monotone"},"encoding":{"stroke":{"field":"g","type":"nominal","scale":{"domain":["No Rec","Rec"],"range":["#F8766D","#00BFC4"]},"legend":{"orient":"none","legendX":202,"legendY":52,"title":null,"symbolType":"M-1,-0.5M1,0.5M-1,0L1,0","symbolSize":256,"symbolStrokeWidth":2,"labelFontSize":8,"labelColor":"#000000","labelOffset":4,"rowPadding":0,"padding":0}}}}
 ]},
{"width":192.5,"height":1,"data":{"values":[{"s":""}]},"mark":{"type":"text"},"encoding":{"text":{"field":"s"}}},

{"width":192.5,"height":95,"data":{"values":[{"s":""}]},"mark":{"type":"text"},"encoding":{"text":{"field":"s"}}},
{"width":192.5,"height":95,"data":{"values":[{"s":""}]},"mark":{"type":"text"},"encoding":{"text":{"field":"s"}}},
{"width":192.5,"height":95,"data":{"values":[{"s":""}]},"mark":{"type":"text"},"encoding":{"text":{"field":"s"}}},

{"width":192.5,"height":16,"view":{"fill":"#d9d9d9","stroke":"#333333","strokeWidth":0.8},"title":{"text":"C","anchor":"start","dx":-22.3,"offset":6,"fontSize":15.5,"fontWeight":"normal","baseline":"alphabetic","color":"#000000","frame":"group"},"data":{"values":[{"s":"KRT17+Cytology+Microhematuria"}]},"mark":{"type":"text","fontSize":8,"color":"#1a1a1a"},"encoding":{"text":{"field":"s"}}},
{"width":192.5,"height":16,"view":{"fill":"#d9d9d9","stroke":"#333333","strokeWidth":0.8},"data":{"values":[{"s":"KRT17+Cytology"}]},"mark":{"type":"text","fontSize":8,"color":"#1a1a1a"},"encoding":{"text":{"field":"s"}}},
{"width":192.5,"height":16,"view":{"fill":"#d9d9d9","stroke":"#333333","strokeWidth":0.8},"data":{"values":[{"s":"KRT17+Microhematuria"}]},"mark":{"type":"text","fontSize":8,"color":"#1a1a1a"},"encoding":{"text":{"field":"s"}}},

{"width":192.5,"height":121,"view":{"stroke":"#333333","strokeWidth":0.8},
 "encoding":{"x":{"field":"m","type":"quantitative","scale":{"domain":[-1.15,43.6],"nice":false,"zero":false},"axis":{"values":[0,6,12,18,24,30,36,42],"labelExpr":"datum.value % 12 === 0 ? datum.label : ''","tickOpacity":{"condition":{"test":"datum.value % 12 !== 0","value":0},"value":1},"gridWidth":{"condition":{"test":"datum.value % 12 !== 0","value":0.5},"value":1},"title":null}},
  "y":{"field":"v","type":"quantitative","scale":{"domain":[-0.165,1.055],"nice":false,"zero":false},"axis":{"values":[0,0.125,0.25,0.375,0.5,0.625,0.75,0.875,1],"format":".2f","labelExpr":"(datum.value*8) % 2 === 0 ? datum.label : ''","tickOpacity":{"condition":{"test":"(datum.value*8) % 2 !== 0","value":0},"value":1},"gridWidth":{"condition":{"test":"(datum.value*8) % 2 !== 0","value":0.5},"value":1},"title":"Score","titleX":-25,"titleBaseline":"alphabetic"}}},
 "layer":[
  {"data":{"name":"B"},"transform":[{"filter":"datum.p==='KCM'"}],"mark":{"type":"area","fill":"#999999","fillOpacity":0.4,"interpolate":"monotone"},"encoding":{"y2":{"field":"v2"},"detail":{"field":"g"}}},
  {"data":{"name":"L"},"transform":[{"filter":"datum.p==='KCM'"}],"mark":{"type":"line","strokeWidth":2,"interpolate":"monotone"},"encoding":{"stroke":{"field":"g","type":"nominal","scale":{"domain":["No Rec","Rec"],"range":["#F8766D","#00BFC4"]},"legend":null}}}
 ]},
{"width":192.5,"height":121,"view":{"stroke":"#333333","strokeWidth":0.8},
 "encoding":{"x":{"field":"m","type":"quantitative","scale":{"domain":[-1.15,43.6],"nice":false,"zero":false},"axis":{"values":[0,6,12,18,24,30,36,42],"labelExpr":"datum.value % 12 === 0 ? datum.label : ''","tickOpacity":{"condition":{"test":"datum.value % 12 !== 0","value":0},"value":1},"gridWidth":{"condition":{"test":"datum.value % 12 !== 0","value":0.5},"value":1},"title":"Follow up time [mon]","titleY":23,"titleBaseline":"alphabetic"}},
  "y":{"field":"v","type":"quantitative","scale":{"domain":[-0.165,1.055],"nice":false,"zero":false},"axis":{"values":[0,0.125,0.25,0.375,0.5,0.625,0.75,0.875,1],"labels":false,"ticks":false,"title":null,"gridWidth":{"condition":{"test":"(datum.value*8) % 2 !== 0","value":0.5},"value":1}}}},
 "layer":[
  {"data":{"name":"B"},"transform":[{"filter":"datum.p==='KC'"}],"mark":{"type":"area","fill":"#999999","fillOpacity":0.4,"interpolate":"monotone"},"encoding":{"y2":{"field":"v2"},"detail":{"field":"g"}}},
  {"data":{"name":"L"},"transform":[{"filter":"datum.p==='KC'"}],"mark":{"type":"line","strokeWidth":2,"interpolate":"monotone"},"encoding":{"stroke":{"field":"g","type":"nominal","scale":{"domain":["No Rec","Rec"],"range":["#F8766D","#00BFC4"]},"legend":null}}}
 ]},
{"width":192.5,"height":121,"view":{"stroke":"#333333","strokeWidth":0.8},
 "encoding":{"x":{"field":"m","type":"quantitative","scale":{"domain":[-1.15,43.6],"nice":false,"zero":false},"axis":{"values":[0,6,12,18,24,30,36,42],"labelExpr":"datum.value % 12 === 0 ? datum.label : ''","tickOpacity":{"condition":{"test":"datum.value % 12 !== 0","value":0},"value":1},"gridWidth":{"condition":{"test":"datum.value % 12 !== 0","value":0.5},"value":1},"title":null}},
  "y":{"field":"v","type":"quantitative","scale":{"domain":[-0.165,1.055],"nice":false,"zero":false},"axis":{"values":[0,0.125,0.25,0.375,0.5,0.625,0.75,0.875,1],"labels":false,"ticks":false,"title":null,"gridWidth":{"condition":{"test":"(datum.value*8) % 2 !== 0","value":0.5},"value":1}}}},
 "layer":[
  {"data":{"name":"B"},"transform":[{"filter":"datum.p==='KM'"}],"mark":{"type":"area","fill":"#999999","fillOpacity":0.4,"interpolate":"monotone"},"encoding":{"y2":{"field":"v2"},"detail":{"field":"g"}}},
  {"data":{"name":"L"},"transform":[{"filter":"false"}],"mark":{"type":"point","filled":true},"encoding":{"fill":{"field":"g","type":"nominal","scale":{"domain":["No Rec ","Rec "],"range":["#f9c1bd","#93d9db"]},"legend":{"orient":"none","legendX":203.5,"legendY":53,"title":null,"symbolType":"square","symbolSize":256,"symbolStrokeWidth":0,"symbolOpacity":1,"labelExpr":"''","labelFontSize":8,"labelOffset":4,"rowPadding":0,"padding":0}}}},
  {"data":{"name":"L"},"transform":[{"filter":"datum.p==='KM'"}],"mark":{"type":"line","strokeWidth":2,"interpolate":"monotone"},"encoding":{"stroke":{"field":"g","type":"nominal","scale":{"domain":["No Rec","Rec"],"range":["#F8766D","#00BFC4"]},"legend":{"orient":"none","legendX":203.5,"legendY":53,"title":null,"symbolType":"M-1,-0.5M1,0.5M-1,0L1,0","symbolSize":256,"symbolStrokeWidth":2,"labelFontSize":8,"labelColor":"#000000","labelOffset":4,"rowPadding":0,"padding":0}}}}
 ]}
],
"config":{
 "font":"Liberation Sans",
 "view":{"stroke":null},
 "axis":{"domain":false,"grid":true,"gridColor":"#ebebeb","tickColor":"#333333","tickSize":2.5,"tickWidth":0.8,"labelColor":"#4d4d4d","labelFontSize":7.5,"labelPadding":1,"labelFont":"Liberation Sans","titleFont":"Liberation Sans","titleFontSize":10,"titleFontWeight":"normal","titleColor":"#000000","labelOverlap":false,"labelFlush":false},
 "legend":{"labelFont":"Liberation Sans"},
 "title":{"font":"Liberation Sans"}
}
}
